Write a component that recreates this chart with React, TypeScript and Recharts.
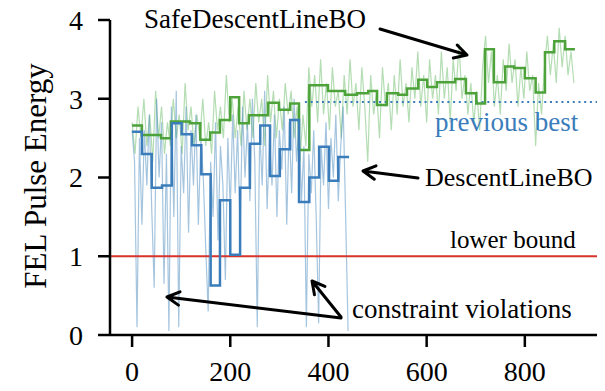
import React from 'react';
import { LineChart, Line, XAxis, YAxis, ReferenceLine } from 'recharts';

// raw evaluations, one sample every few iterations
const blueRawStep = 5;
const blueRaw = [
  2.6, 2.2, 0.1, 2.5, 1.4, 2.6, 1.9, 2.8, 1.6, 0.6,
  3.0, 2.0, 2.7, 0.65, 2.3, 0.05, 2.9, 1.5, 3.1, 0.1,
  2.4, 1.8, 2.9, 1.3, 2.6, 1.9, 2.8, 1.4, 2.5, 2.0,
  1.1, 0.3, 2.2, 1.5, 2.7, 1.2, 2.4, 1.9, 0.7, 2.5,
  1.6, 2.8, 1.8, 2.6, 1.3, 2.9, 2.0, 2.7, 1.7, 3.0,
  2.2, 0.1, 2.6, 1.9, 3.1, 1.6, 2.5, 1.9, 2.8, 1.5,
  2.6, 2.1, 2.9, 1.4, 2.7, 1.8, 3.0, 2.2, 2.7, 1.7,
  2.4, 0.1, 2.3, 1.8, 2.6, 1.5, 0.15, 2.4, 1.9, 2.7,
  1.6, 2.5, 2.0, 2.8, 1.7, 2.4, 2.9, 1.5, 0.05,
];

const greenRawStep = 6;
const greenRaw = [
  2.7, 2.3, 2.9, 2.5, 3.0, 2.4, 2.8, 2.2, 3.1, 2.5,
  2.9, 2.3, 2.7, 2.4, 3.0, 2.5, 2.8, 2.3, 3.2, 2.6,
  2.9, 2.4, 2.8, 2.5, 3.0, 2.4, 2.7, 2.3, 3.1, 2.6,
  2.9, 2.5, 3.3, 2.7, 3.0, 2.5, 2.9, 2.4, 3.1, 2.6,
  3.0, 2.5, 3.2, 2.7, 3.0, 2.4, 3.3, 2.7, 3.1, 2.5,
  3.0, 2.6, 3.2, 2.8, 3.1, 2.5, 2.9, 2.2, 2.8, 2.4,
  3.4, 2.9, 3.3, 2.7, 3.5, 2.8, 3.2, 2.6, 3.4, 2.9,
  3.1, 2.5, 3.3, 2.8, 3.5, 2.9, 3.2, 2.6, 3.4, 2.9,
  2.2, 3.3, 2.8, 3.1, 2.5, 3.4, 2.9, 3.2, 2.6, 3.3,
  2.8, 3.5, 2.9, 3.2, 2.7, 3.4, 3.0, 3.6, 2.9, 3.3,
  2.7, 3.5, 3.0, 3.3, 2.8, 3.6, 3.0, 3.4, 2.7, 3.5,
  3.1, 3.7, 3.0, 3.3, 2.8, 3.2, 2.7, 3.1, 2.6, 3.4,
  3.8, 3.2, 3.6, 2.9, 3.3, 2.8, 3.5, 3.1, 3.7, 3.2,
  3.5, 2.9, 3.4, 3.0, 3.6, 3.1, 3.3, 2.4, 3.2, 2.8,
  3.4, 3.8, 3.3, 3.7, 3.2, 3.9, 3.4, 3.8, 3.3, 3.6, 3.2,
];

// line-search segments (start iteration, value); last entry closes the final step
const blueStepX = [0, 20, 40, 61, 81, 101, 122, 141, 160, 179, 200, 220, 240, 261, 281, 301, 322, 340, 361, 381, 401, 420, 442];
const blueStepY = [2.58, 2.3, 1.87, 1.9, 2.69, 2.55, 2.41, 2.04, 0.63, 1.71, 1.02, 1.87, 2.43, 2.66, 2.02, 2.36, 2.73, 1.69, 2.0, 2.39, 1.96, 2.26, 2.26];

const greenStepX = [0, 20, 59, 79, 118, 139, 159, 179, 200, 218, 238, 277, 299, 322, 340, 361, 399, 434, 458, 481, 499, 519, 542, 560, 583, 601, 621, 658, 680, 701, 719, 737, 760, 778, 800, 822, 841, 860, 882, 902];
const greenStepY = [2.66, 2.54, 2.5, 2.71, 2.69, 2.48, 2.57, 2.73, 3.02, 2.69, 2.79, 2.95, 2.86, 2.94, 2.35, 3.17, 3.1, 3.05, 3.07, 3.1, 2.92, 3.07, 3.05, 3.13, 3.24, 3.15, 3.21, 3.25, 3.07, 2.94, 3.63, 3.21, 3.41, 3.39, 3.26, 3.08, 3.59, 3.73, 3.63, 3.63];

const lowerBound = 1;
const previousBest = 2.96;
const previousBestFrom = 352;

const xDomain = [-45, 947];
const xTicks = [0, 200, 400, 600, 800];
const yTicks = [0, 1, 2, 3, 4];

const BLUE = '#3b7dbb';
const GREEN = '#4da23a';
const RED = '#d7332b';
const FONT = "'Liberation Serif', 'DejaVu Serif', serif";

const blueRawData = blueRaw.map((y, i) => ({ x: i * blueRawStep, y }));
const greenRawData = greenRaw.map((y, i) => ({ x: i * greenRawStep, y }));
const blueStepData = blueStepX.map((x, i) => ({ x, y: blueStepY[i] }));
const greenStepData = greenStepX.map((x, i) => ({ x, y: greenStepY[i] }));

const arrow = (x1: number, y1: number, x2: number, y2: number) => {
  const a = Math.atan2(y2 - y1, x2 - x1);
  const len = 14;
  const w = 0.5;
  const p1 = `${x2 - len * Math.cos(a - w)},${y2 - len * Math.sin(a - w)}`;
  const p2 = `${x2 - len * Math.cos(a + w)},${y2 - len * Math.sin(a + w)}`;
  return `M${x1},${y1} L${x2},${y2} M${p1} L${x2},${y2} L${p2}`;
};

const axisStyle = { stroke: '#000', strokeWidth: 2.5 };
const tickStyle = { fill: '#000', fontSize: 28, fontFamily: FONT };

const App: React.FC = () => {
  return (
    <div style={{ position: 'fixed', left: 0, top: 0, width: 605, height: 391, background: '#fff' }}>
      <LineChart width={605} height={391} margin={{ top: 20, right: 8, bottom: 0, left: 0 }}>
        <XAxis
          type="number"
          dataKey="x"
          domain={xDomain}
          ticks={xTicks}
          allowDataOverflow
          height={56}
          tickSize={12}
          tickMargin={14}
          axisLine={axisStyle}
          tickLine={axisStyle}
          tick={tickStyle}
        />
        <YAxis
          type="number"
          dataKey="y"
          domain={[0, 4]}
          ticks={yTicks}
          width={110}
          tickSize={12}
          tickMargin={15}
          axisLine={axisStyle}
          tickLine={axisStyle}
          tick={tickStyle}
        />
        <Line data={greenRawData} dataKey="y" stroke="#4daf4a" strokeOpacity={0.42} strokeWidth={1.2} dot={false} activeDot={false} isAnimationActive={false} />
        <Line data={blueRawData} dataKey="y" stroke="#377eb8" strokeOpacity={0.45} strokeWidth={1.2} dot={false} activeDot={false} isAnimationActive={false} />
        <ReferenceLine y={lowerBound} stroke={RED} strokeWidth={2} />
        <ReferenceLine
          segment={[{ x: previousBestFrom, y: previousBest }, { x: xDomain[1], y: previousBest }]}
          stroke={BLUE}
          strokeWidth={2}
          strokeDasharray="2 3.7"
        />
        <Line data={greenStepData} dataKey="y" type="stepAfter" stroke={GREEN} strokeWidth={2.5} dot={false} activeDot={false} isAnimationActive={false} />
        <Line data={blueStepData} dataKey="y" type="stepAfter" stroke={BLUE} strokeWidth={2.5} dot={false} activeDot={false} isAnimationActive={false} />
      </LineChart>
      <svg width={605} height={391} style={{ position: 'absolute', left: 0, top: 0, pointerEvents: 'none' }}>
        <text x={46} y={176} transform="rotate(-90 46 176)" textAnchor="middle" fontSize={31} fontFamily={FONT} fill="#000">
          FEL Pulse Energy
        </text>
        <g fontFamily={FONT} fill="#000">
          <text x={144} y={28} fontSize={27}>SafeDescentLineBO</text>
          <text x={435} y={131} fontSize={27} fill={BLUE}>previous best</text>
          <text x={425} y={186} fontSize={26}>DescentLineBO</text>
          <text x={450} y={248} fontSize={25}>lower bound</text>
          <text x={352} y={318} fontSize={27}>constraint violations</text>
        </g>
        <g stroke="#000" strokeWidth={3} fill="none" strokeLinecap="round" strokeLinejoin="round">
          <path d={arrow(380, 29, 467, 55)} />
          <path d={arrow(418, 178, 363, 171)} />
          <path d={arrow(341, 318, 167, 297)} />
          <path d={arrow(341, 317, 312, 281)} />
        </g>
      </svg>
    </div>
  );
};

export default App;
